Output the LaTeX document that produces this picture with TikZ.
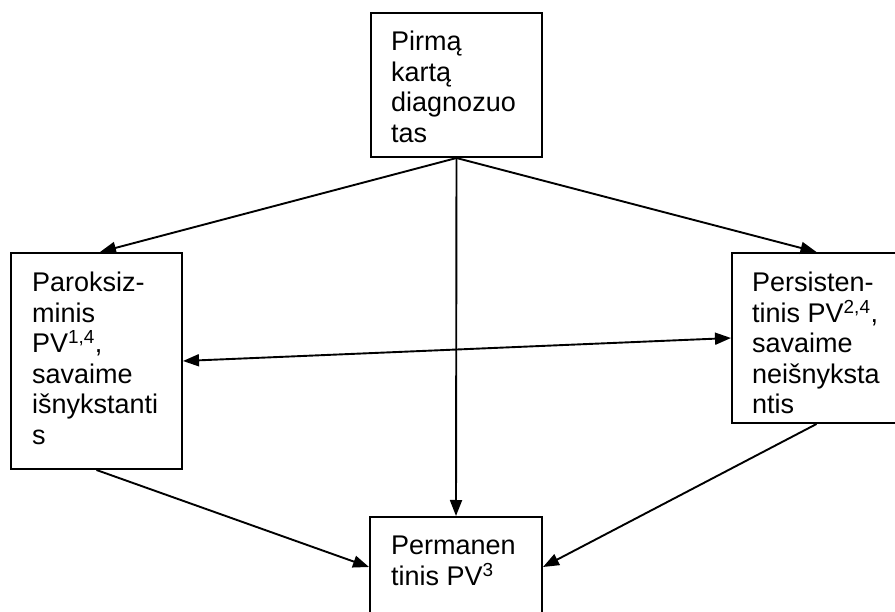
\documentclass[tikz,border=0pt]{standalone}
\usepackage{fontspec}
\setmainfont{Liberation Sans}
\usetikzlibrary{arrows.meta}

\begin{document}
\begin{tikzpicture}[x=1pt, y=-1pt,
    box/.style={draw, line width=2pt, inner sep=0pt},
    txt/.style={anchor=north west, inner sep=0pt, align=left,
      font=\fontsize{27}{30.5}\selectfont},
    arr/.style={line width=1.9pt, -{Triangle[length=16pt,width=12pt]}},
    dblarr/.style={line width=1.9pt, {Triangle[length=16pt,width=12pt]}-{Triangle[length=16pt,width=12pt]}}]
    \useasboundingbox (0,0) rectangle (895,612);

    % boxes
    \node[box, minimum width=171pt, minimum height=144pt] (first) at (456.5,85) {};
    \node[box, minimum width=171pt, minimum height=216pt] (parox) at (96.5,361) {};
    \node[box, minimum width=169pt, minimum height=170pt] (persist) at (816.5,338) {};
    \node[box, minimum width=172pt, minimum height=100pt] (perm) at (456,567) {};

    % texts
    \node[txt] (firsttxt) at ([xshift=21pt,yshift=-19pt]first.north west) {Pirmą\\kartą\\diagnozuo\\tas};
    \node[txt] (paroxtxt) at ([xshift=22pt,yshift=-20pt]parox.north west) {Paroksiz-\\minis\\PV\textsuperscript{1,4},\\savaime\\išnykstanti\\s};
    \node[txt] (persisttxt) at ([xshift=21pt,yshift=-20pt]persist.north west) {Persisten-\\tinis PV\textsuperscript{2,4},\\savaime\\neišnyksta\\ntis};
    \node[txt] (permtxt) at ([xshift=22pt,yshift=-20pt]perm.north west) {Permanen\\tinis PV\textsuperscript{3}};

    % connectors
    \draw[arr] (first.south) -- ([xshift=3.5pt]parox.north);
    \draw[arr] (first.south) -- (persist.north);
    \draw[arr] (first.south) -- (perm.north);
    \draw[dblarr] (parox.east) -- (persist.west);
    \draw[arr] (parox.south) -- (perm.west);
    \draw[arr] (persist.south) -- (perm.east);
\end{tikzpicture}
\end{document}
